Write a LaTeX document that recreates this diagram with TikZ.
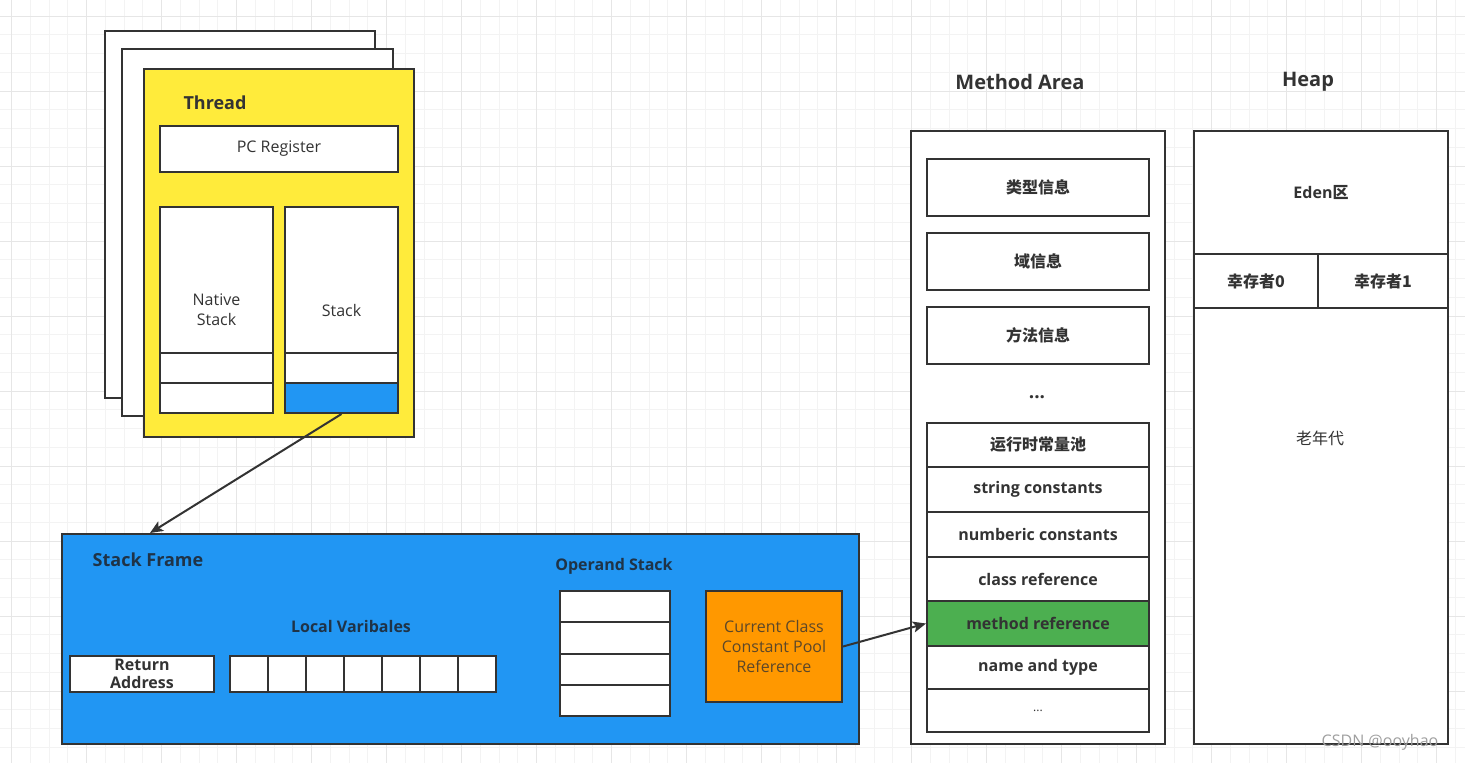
\documentclass[tikz,border=0pt]{standalone}
\usepackage{fontspec}
\setmainfont{Open Sans}
\newfontfamily\cjk{Noto Sans CJK SC}
\usetikzlibrary{arrows.meta}

\definecolor{linec}{HTML}{333333}
\definecolor{textc}{HTML}{333333}
\definecolor{darktext}{HTML}{1F3347}
\definecolor{threadc}{HTML}{FFEB3B}
\definecolor{framec}{HTML}{2196F3}
\definecolor{poolc}{HTML}{FF9800}
\definecolor{refc}{HTML}{4CAF50}
\definecolor{gridminor}{HTML}{F3F3F3}
\definecolor{gridmajor}{HTML}{E6E6E6}

\begin{document}
\begin{tikzpicture}[
      x=1pt, y=-1pt,
      box/.style={draw=linec, line width=2pt, fill=white, inner sep=0pt, anchor=north west,
                  align=center, text=textc, font=\fontsize{16}{20}\selectfont},
      bbox/.style={box, font=\bfseries\fontsize{16}{20}\selectfont},
      label/.style={text=textc, inner sep=0pt, font=\bfseries\fontsize{16}{20}\selectfont},
      title/.style={text=textc, inner sep=0pt, font=\bfseries\fontsize{20}{24}\selectfont},
      arr/.style={draw=linec, line width=2pt, -{Stealth[length=13pt,width=11pt,inset=3pt]}}
      ]
      % page and grid
      \useasboundingbox[fill=white] (0,0) rectangle (1465,763);
      \foreach \i in {0,...,77}
        \draw[gridminor, line width=1pt] ({11.7+18.75*\i},0) -- ({11.7+18.75*\i},763);
      \foreach \j in {0,...,39}
        \draw[gridminor, line width=1pt] (0,{16+18.75*\j}) -- (1465,{16+18.75*\j});
      \foreach \i in {0,4,...,76}
        \draw[gridmajor, line width=1pt] ({11.7+18.75*\i},0) -- ({11.7+18.75*\i},763);
      \foreach \j in {0,4,...,36}
        \draw[gridmajor, line width=1pt] (0,{16+18.75*\j}) -- (1465,{16+18.75*\j});

      % threads
      \node[box, minimum width=270, minimum height=367] (sheet1) at (104,30) {};
      \node[box, minimum width=271, minimum height=367] (sheet2) at (121,48) {};
      \node[box, fill=threadc, minimum width=270, minimum height=368] (thread) at (143,68) {};
      \node[title, font=\bfseries\fontsize{18}{22}\selectfont] (threadlbl) at (215,103) {Thread};
      \node[box, minimum width=238, minimum height=46] (pc) at (159,125) {PC Register};
      \node[box, minimum width=113, minimum height=206] (native) at (159,206) {Native\\Stack};
      \node[box, minimum width=113, minimum height=30] (ncell1) at (159,352) {};
      \node[box, minimum width=113, minimum height=30] (ncell2) at (159,382) {};
      \node[box, minimum width=113, minimum height=206] (stack) at (284,206) {Stack};
      \node[box, minimum width=113, minimum height=30] (scell1) at (284,352) {};
      \node[box, fill=framec, minimum width=113, minimum height=30] (scell2) at (284,382) {};

      % stack frame
      \node[box, fill=framec, minimum width=797, minimum height=210] (frame) at (61,533) {};
      \node[title, text=darktext, font=\bfseries\fontsize{18}{22}\selectfont] (framelbl) at (148,560) {Stack Frame};
      \node[label, text=darktext] (locallbl) at (351,626) {Local Varibales};
      \node[bbox, minimum width=144, minimum height=36] (ret) at (69,655) {Return\\[-2pt]Address};
      \foreach \k in {0,...,6}
        \node[box, minimum width=38, minimum height=36] (local\k) at ({229+38*\k},655) {};
      \node[label, text=darktext] (operandlbl) at (614,566) {Operand Stack};
      \foreach \k in {0,...,3}
        \node[box, minimum width=110, minimum height=31.25] (op\k) at (559,{590+31.25*\k}) {};
      \node[box, fill=poolc, text=textc!80!poolc, minimum width=136, minimum height=111] (cpool) at (705,590)
        {Current Class\\Constant Pool\\Reference};

      % method area
      \node[title] (methodlbl) at (1020,82) {Method Area};
      \node[box, minimum width=254, minimum height=613] (method) at (910,130) {};
      \node[bbox, minimum width=222, minimum height=57] (typeinfo) at (926,158) {\cjk 类型信息};
      \node[bbox, minimum width=222, minimum height=57] (fieldinfo) at (926,232) {\cjk 域信息};
      \node[bbox, minimum width=222, minimum height=57] (methodinfo) at (926,306) {\cjk 方法信息};
      \node[label, font=\bfseries\fontsize{19}{22}\selectfont] (moreinfo) at (1037,397) {...};
      \node[bbox, minimum width=222, minimum height=44] (pool) at (926,422) {\cjk 运行时常量池};
      \node[bbox, minimum width=222, minimum height=45] (strc) at (926,466) {string constants};
      \node[bbox, minimum width=222, minimum height=45] (numc) at (926,511) {numberic constants};
      \node[bbox, minimum width=222, minimum height=44] (cref) at (926,556) {class reference};
      \node[bbox, fill=refc, minimum width=222, minimum height=45] (mref) at (926,600) {method reference};
      \node[bbox, minimum width=222, minimum height=43] (ntype) at (926,645) {name and type};
      \node[box, minimum width=222, minimum height=43, font=\fontsize{12}{14}\selectfont] (morepool) at (926,688) {...};

      % heap
      \node[title] (heaplbl) at (1308,82) {Heap};
      \node[box, minimum width=254, minimum height=613] (heap) at (1193,130) {};
      \node[bbox, minimum width=254, minimum height=123] (eden) at (1193,130) {Eden{\cjk 区}};
      \node[bbox, minimum width=124, minimum height=54] (surv0) at (1193,253) {\cjk 幸存者0};
      \node[bbox, minimum width=130, minimum height=54] (surv1) at (1317,253) {\cjk 幸存者1};
      \node[text=textc, font=\cjk\fontsize{16}{20}\selectfont] (oldlbl) at (1320,438) {老年代};

      % references
      \coordinate (framein) at (150,533);
      \draw[arr] (scell2.south) -- (framein);
      \draw[arr] (cpool.east) -- (mref.west);

      \node[text=gray!75, font=\fontsize{16}{20}\selectfont] (mark) at (1380,742) {CSDN @ooyhao};
    \end{tikzpicture}
\end{document}
